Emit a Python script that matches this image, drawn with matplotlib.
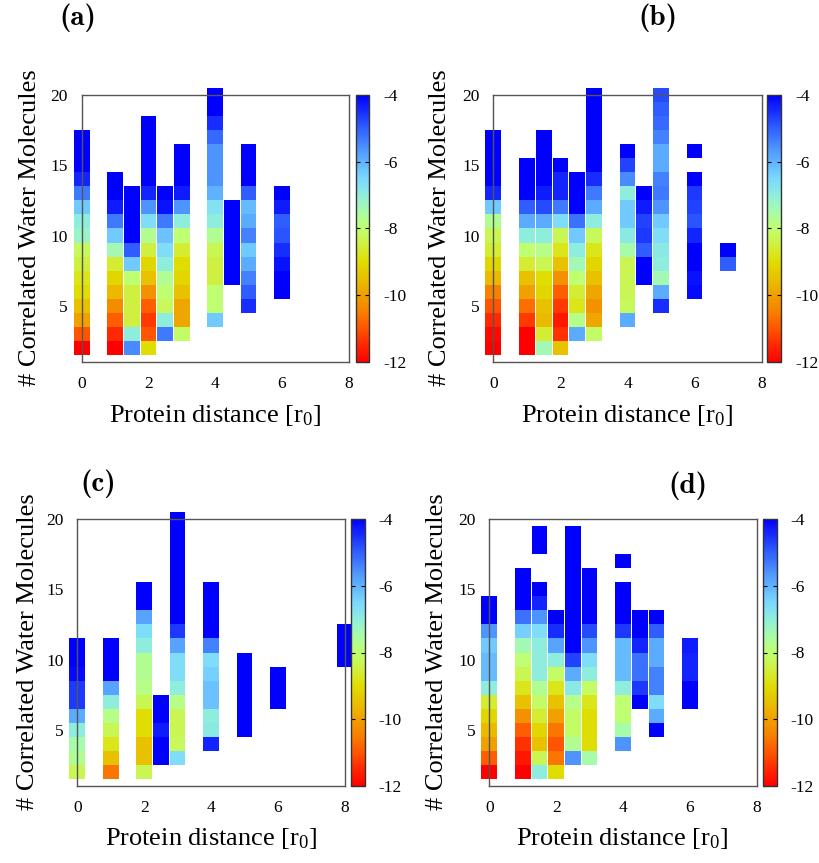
import os
import numpy as np
import matplotlib
matplotlib.use("Agg")
import matplotlib.pyplot as plt
from matplotlib.colors import LinearSegmentedColormap, Normalize
from matplotlib.cm import ScalarMappable
from matplotlib.font_manager import FontProperties

plt.rcParams['font.family'] = ['Liberation Serif', 'DejaVu Serif']
plt.rcParams['mathtext.fontset'] = 'custom'
plt.rcParams['mathtext.rm'] = 'Liberation Serif'
plt.rcParams['mathtext.it'] = 'Liberation Serif:italic'
plt.rcParams['mathtext.bf'] = 'Liberation Serif:bold'

nan = np.nan

# ---------------- data ----------------
# panel (a)
A_X = [0, 1, 1.5, 2, 2.5, 3, 4, 4.5, 5, 6]
A_Y0 = [2, 2, 2, 2, 3, 3, 4, 7, 5, 6]
A_VALS = [
    [-12, -11, -10, -9.5, -9, -8.8, -8.5, -8.2, -7.2, -7, -6.3, -5.3, -4.4, -4, -4, -4],
    [-12, -11.5, -10.9, -10.3, -9.6, -9.1, -8.6, -7.4, -6.3, -5.3, -4.3, -4, -4],
    [-5.5, -7, -8.5, -8.5, -8.5, -8, -6.3, -5, -4, -4, -4, -4],
    [-9, -11, -11.3, -10.9, -10.2, -9.5, -9.1, -8.5, -7.7, -6.6, -5.6, -4.4, -4, -4, -4, -4, -4],
    [-5.3, -7, -8.2, -8, -7.7, -7, -6.6, -6.2, -5.3, -4.2, -4],
    [-8.1, -9.9, -9.9, -9.5, -9.1, -9, -8.6, -8, -7, -5.6, -4.3, -4, -4, -4],
    [-6.3, -8, -8, -8.5, -8.5, -8.3, -7.7, -7, -6.7, -6, -5.6, -5.6, -5.6, -5.1, -4.5, -4, -4],
    [-4, -4, -4, -4, -4, -4],
    [-4.5, -5, -5.4, -5.9, -6.3, -5.4, -5.9, -6.1, -5, -4, -4, -4],
    [-4, -4, -4.2, -4.5, -4.9, -5, -4.3, -4],
]

# panel (b)
B_X = [0, 1, 1.5, 2, 2.5, 3, 4, 4.5, 5, 6, 7]
B_Y0 = [2, 2, 2, 2, 3, 3, 4, 7, 5, 6, 8]
B_VALS = [
    [-12, -11.9, -11.5, -11, -10.5, -9.6, -9.1, -8.6, -8.3, -7.7, -6.3, -4.4, -4, -4, -4, -4],
    [-12, -12, -11.3, -10.7, -10, -9.5, -8.6, -8, -7, -5.9, -5, -4, -4, -4],
    [-7.4, -8.6, -9.6, -9.5, -9.1, -9, -8.3, -7.8, -7, -5.9, -4.8, -4.3, -4, -4, -4, -4],
    [-9.5, -11.4, -11.7, -11.3, -10.9, -10.2, -9.5, -8.8, -8.3, -6.6, -5.3, -4.4, -4.4, -4],
    [-5.9, -7.8, -8.8, -8.6, -8, -7.4, -7, -6.3, -5.2, -4, -4, -4],
    [-8.1, -9.9, -10.2, -9.9, -9.5, -9.1, -8.8, -8.2, -7, -5.9, -5.3, -4.5, -4, -4, -4, -4, -4, -4],
    [-5.9, -8.2, -8.3, -8.3, -8.3, -7.5, -6.9, -6.3, -6.3, -7, -5.5, -4.7, -4],
    [-4, -4, -5, -4.6, -4.7, -4.3, -4],
    [-4.5, -5.9, -7.4, -7, -6.9, -6.6, -6.3, -5.6, -5.3, -5.4, -5.9, -5.9, -5.4, -5.1, -5, -4.8],
    [-4.1, -4.2, -4, -4, -4.4, -4.9, -4.7, -4.6, -4, nan, -4],
    [-5, -4],
]

# panel (c)
C_X = [0, 1, 2, 2.5, 3, 4, 5, 6, 8]
C_Y0 = [2, 2, 2, 3, 3, 4, 5, 7, 10]
C_VALS = [
    [-8.3, -7.7, -7.5, -7, -5.9, -4.6, -4.6, -4.1, -4, -4],
    [-10.6, -9.5, -8.8, -8.3, -7.8, -7, -5.8, -4, -4, -4],
    [-8.3, -9.5, -9.5, -9, -9, -8.3, -7.8, -7.7, -7.7, -7, -6.6, -5.8, -4, -4],
    [-4, -4, -4.3, -4, -4],
    [-6.6, -8.2, -8.3, -8.3, -7.8, -7, -6.6, -6.6, -5.8, -4.6, -4, -4, -4, -4, -4, -4, -4, -4],
    [-4.4, -6.9, -7, -6.2, -6.2, -6.4, -6.6, -5.4, -4, -4, -4, -4],
    [-4, -4, -4, -4, -4, -4],
    [-4, -4, -4],
    [-4, -4, -4],
]

# panel (d)
D_X = [0, 1, 1.5, 2, 2.5, 3, 4, 4.5, 5, 6]
D_Y0 = [2, 2, 2, 2, 3, 3, 4, 7, 5, 7]
D_VALS = [
    [-12, -10.9, -10, -9.6, -9.1, -8.6, -7, -6.1, -6.1, -6.3, -5.6, -4, -4],
    [-12, -11.7, -11.4, -10.9, -10.2, -9.5, -8.8, -8.3, -8, -7.4, -6.4, -5.2, -4, -4, -4],
    [-7, -8.3, -9.5, -9.1, -8.6, -8.1, -7.7, -7, -7, -7, -6.6, -5.6, -4.4, -4, nan, nan, -4, -4],
    [-9, -10.6, -11, -10.6, -10, -9.5, -8.8, -8.1, -7, -5.8, -4.5, -4],
    [-5.6, -7.7, -8.1, -8.1, -7.8, -6.9, -5.9, -4.7, -4, -4, -4, -4, -4, -4, -4, -4, -4],
    [-7.5, -9, -9, -9, -8.8, -8.1, -7, -6.6, -5.6, -4.8, -4, -4, -4, -4],
    [-5.6, -7.5, -8, -8, -7, -6.1, -6.1, -6.1, -4.6, -4, -4, -4, nan, -4],
    [-4, -4.6, -5.2, -5.2, -4.4, -4, -4],
    [-4, -5.9, -6.6, -5.4, -5.4, -5.9, -5.9, -5, -4],
    [-4, -4, -4.4, -4.4, -4.3],
]

PANEL_LABELS = ['(a)', '(b)', '(c)', '(d)']
X_TICKS = [0, 2, 4, 6, 8]
Y_TICKS = [5, 10, 15, 20]
CB_TICKS = [-12, -10, -8, -6, -4]
XLABEL = 'Protein distance [r$_{0}$]'
YLABEL = '# Correlated Water Molecules'

# ---------------- colormap ----------------
cmap = LinearSegmentedColormap.from_list('pal', [
    (0.0, '#ff0000'), (0.0625, '#ff2800'), (0.125, '#ff5500'), (0.1875, '#f88000'),
    (0.25, '#f0a000'), (0.3125, '#e8c000'), (0.375, '#e0dd00'), (0.4375, '#d0f040'),
    (0.5, '#c0ff70'), (0.5625, '#a8fca8'), (0.625, '#90eedc'), (0.6875, '#7cd8ff'),
    (0.75, '#60b4ff'), (0.8125, '#4a8cff'), (0.875, '#3060ff'), (0.9375, '#1830ff'),
    (1.0, '#0000ff')])
norm = Normalize(vmin=-12, vmax=-4)

cmb_path = os.path.join(matplotlib.get_data_path(), 'fonts', 'ttf', 'cmb10.ttf')
if os.path.exists(cmb_path):
    label_fp = FontProperties(fname=cmb_path, size=21)
else:
    label_fp = FontProperties(family='DejaVu Serif', weight='bold', size=20)

W, H = 819, 863
fig = plt.figure(figsize=(W / 100, H / 100), dpi=100)


def px_axes(x0, y0, x1, y1):
    return fig.add_axes([x0 / W, 1 - y1 / H, (x1 - x0) / W, (y1 - y0) / H])


panels = [
    (A_X, A_Y0, A_VALS, (81.7, 95, 348.7, 362), (355.7, 369.3), (78, 18), (215, 415), (30, 228)),
    (B_X, B_Y0, B_VALS, (493.3, 95, 761.7, 362), (767.3, 781), (658, 18), (627, 415), (440, 228)),
    (C_X, C_Y0, C_VALS, (77.3, 519, 344.7, 786), (351, 364.7), (98, 484), (211, 838), (28, 652)),
    (D_X, D_Y0, D_VALS, (489.3, 519, 756.7, 786), (763, 776.7), (688, 486), (622, 838), (437, 652)),
]

for i, (xs, y0s, vals, box, cbx, lab, xl, yl) in enumerate(panels):
    ax = px_axes(*box)
    for x, y0, col in zip(xs, y0s, vals):
        col = np.asarray(col, dtype=float)
        ys = y0 + np.arange(len(col))
        ok = ~np.isnan(col)
        ax.bar(np.full(ok.sum(), x), np.ones(ok.sum()), bottom=ys[ok] - 0.5, width=0.47,
               color=cmap(norm(col[ok])), linewidth=0, clip_on=False, zorder=1,
               antialiased=False)
    ax.set_xlim(0, 8)
    ax.set_ylim(1, 20)
    ax.set_xticks(X_TICKS)
    ax.set_yticks(Y_TICKS)
    ax.tick_params(length=0, labelsize=12.5, pad=10)
    for s in ax.spines.values():
        s.set_color('#555555')
        s.set_linewidth(1.0)
        s.set_zorder(3)
    ax.set_facecolor('none')

    cax = px_axes(cbx[0], box[1], cbx[1], box[3])
    cb = fig.colorbar(ScalarMappable(norm=norm, cmap=cmap), cax=cax, ticks=CB_TICKS)
    cb.ax.set_yticklabels([str(t) for t in CB_TICKS])
    cb.ax.tick_params(labelsize=12.5, direction='in', length=3, width=0.8, pad=10,
                      left=True, right=True)
    cb.outline.set_linewidth(1.0)
    cb.outline.set_edgecolor('#333333')

    fig.text(lab[0] / W, 1 - lab[1] / H, PANEL_LABELS[i],
             fontproperties=label_fp, ha='center', va='center')
    fig.text(xl[0] / W, 1 - xl[1] / H, XLABEL, fontsize=19, ha='center', va='center')
    fig.text(yl[0] / W, 1 - yl[1] / H, YLABEL, fontsize=19, ha='center', va='center',
             rotation=90)

fig.savefig('out.png', dpi=100)
